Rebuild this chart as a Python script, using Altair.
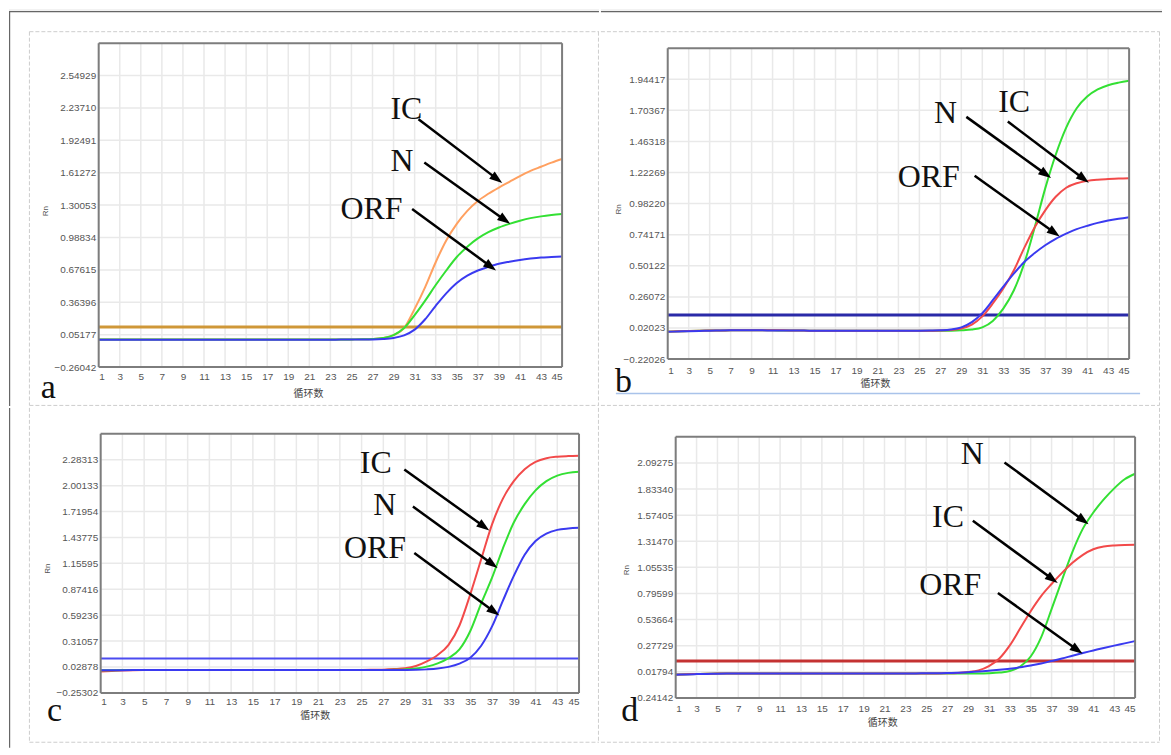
import math
import altair as alt
import pandas as pd

# ---------------- data ----------------
CYCLES = list(range(1, 46))
X_TICKS = list(range(1, 46, 2))

A_YTICKS = [-0.26042, 0.05177, 0.36396, 0.67615, 0.98834, 1.30053, 1.61272, 1.92491, 2.23710, 2.54929]
B_YTICKS = [-0.22026, 0.02023, 0.26072, 0.50122, 0.74171, 0.98220, 1.22269, 1.46318, 1.70367, 1.94417]
C_YTICKS = [-0.25302, 0.02878, 0.31057, 0.59236, 0.87416, 1.15595, 1.43775, 1.71954, 2.00133, 2.28313]
D_YTICKS = [-0.24142, 0.01794, 0.27729, 0.53664, 0.79599, 1.05535, 1.31470, 1.57405, 1.83340, 2.09275]

A_IC = [0.004, 0.004, 0.004, 0.004, 0.004, 0.004, 0.004, 0.004, 0.004, 0.004,
        0.004, 0.004, 0.004, 0.004, 0.004, 0.004, 0.004, 0.004, 0.004, 0.004,
        0.004, 0.004, 0.005, 0.005, 0.006, 0.007, 0.010, 0.020, 0.048, 0.115,
        0.300, 0.510, 0.750, 0.960, 1.120, 1.245, 1.340, 1.410, 1.470, 1.525,
        1.580, 1.630, 1.670, 1.710, 1.745]
A_N = [0.004, 0.004, 0.004, 0.004, 0.004, 0.004, 0.004, 0.004, 0.004, 0.004,
       0.004, 0.004, 0.004, 0.004, 0.004, 0.004, 0.004, 0.004, 0.004, 0.004,
       0.004, 0.004, 0.005, 0.005, 0.006, 0.007, 0.010, 0.020, 0.048, 0.115,
       0.240, 0.380, 0.530, 0.670, 0.800, 0.900, 0.980, 1.040, 1.085, 1.120,
       1.150, 1.175, 1.192, 1.205, 1.215]
A_ORF = [0.003, 0.003, 0.003, 0.003, 0.003, 0.003, 0.003, 0.003, 0.003, 0.003,
         0.003, 0.003, 0.003, 0.003, 0.003, 0.003, 0.003, 0.003, 0.003, 0.003,
         0.003, 0.003, 0.003, 0.004, 0.004, 0.005, 0.006, 0.010, 0.020, 0.045,
         0.100, 0.200, 0.330, 0.450, 0.550, 0.620, 0.670, 0.705, 0.735, 0.755,
         0.772, 0.785, 0.795, 0.800, 0.805]

B_N = [-0.008, -0.006, -0.004, -0.002, 0.000, 0.001, 0.002, 0.003, 0.003, 0.003,
       0.002, 0.001, 0.000, 0.000, -0.001, -0.001, -0.001, -0.002, -0.002, -0.002,
       -0.002, -0.002, -0.002, -0.002, -0.002, -0.002, -0.002, -0.001, 0.002, 0.008,
       0.025, 0.075, 0.170, 0.310, 0.520, 0.800, 1.100, 1.360, 1.570, 1.720,
       1.810, 1.865, 1.898, 1.918, 1.932]
B_IC = [-0.008, -0.006, -0.004, -0.002, 0.000, 0.001, 0.002, 0.003, 0.003, 0.003,
        0.002, 0.002, 0.001, 0.000, -0.001, -0.001, -0.001, -0.002, -0.002, -0.002,
        -0.002, -0.002, -0.002, -0.002, -0.002, -0.001, 0.000, 0.004, 0.016, 0.046,
        0.110, 0.210, 0.325, 0.465, 0.640, 0.800, 0.930, 1.035, 1.105, 1.140,
        1.158, 1.167, 1.172, 1.176, 1.178]
B_ORF = [-0.009, -0.007, -0.005, -0.003, -0.001, 0.001, 0.002, 0.002, 0.002, 0.002,
         0.001, 0.001, 0.000, 0.000, -0.001, -0.001, -0.001, -0.002, -0.002, -0.002,
         -0.002, -0.002, -0.002, -0.002, -0.001, 0.000, 0.002, 0.008, 0.025, 0.065,
         0.135, 0.235, 0.340, 0.440, 0.530, 0.600, 0.660, 0.710, 0.750, 0.785,
         0.810, 0.833, 0.851, 0.865, 0.877]

C_IC = [-0.020, -0.015, -0.010, -0.007, -0.005, -0.004, -0.004, -0.004, -0.004, -0.004,
        -0.004, -0.004, -0.004, -0.004, -0.004, -0.004, -0.004, -0.004, -0.004, -0.004,
        -0.004, -0.004, -0.004, -0.004, -0.003, -0.002, 0.000, 0.006, 0.015, 0.040,
        0.090, 0.160, 0.270, 0.480, 0.820, 1.200, 1.580, 1.860, 2.050, 2.180,
        2.260, 2.300, 2.316, 2.323, 2.327]
C_N = [-0.006, -0.006, -0.005, -0.005, -0.005, -0.005, -0.005, -0.005, -0.005, -0.005,
       -0.005, -0.005, -0.005, -0.005, -0.005, -0.005, -0.005, -0.005, -0.005, -0.005,
       -0.005, -0.005, -0.005, -0.005, -0.005, -0.005, -0.004, -0.002, 0.003, 0.013,
       0.033, 0.068, 0.125, 0.220, 0.420, 0.720, 1.000, 1.320, 1.600, 1.800,
       1.950, 2.050, 2.110, 2.140, 2.153]
C_ORF = [-0.006, -0.006, -0.006, -0.005, -0.005, -0.005, -0.005, -0.005, -0.005, -0.005,
         -0.005, -0.005, -0.005, -0.005, -0.005, -0.005, -0.005, -0.005, -0.005, -0.005,
         -0.005, -0.005, -0.005, -0.005, -0.005, -0.005, -0.005, -0.005, -0.004, -0.002,
         0.003, 0.012, 0.030, 0.065, 0.130, 0.260, 0.470, 0.750, 1.020, 1.250,
         1.400, 1.480, 1.520, 1.535, 1.542]

D_N = [-0.010, -0.007, -0.004, -0.002, 0.000, 0.001, 0.002, 0.002, 0.002, 0.002,
       0.002, 0.002, 0.002, 0.002, 0.002, 0.002, 0.002, 0.002, 0.002, 0.002,
       0.002, 0.002, 0.002, 0.002, 0.002, 0.002, 0.002, 0.002, 0.002, 0.002,
       0.004, 0.010, 0.025, 0.070, 0.170, 0.360, 0.640, 0.930, 1.210, 1.440,
       1.600, 1.730, 1.840, 1.930, 1.985]
D_IC = [-0.010, -0.007, -0.004, -0.002, 0.000, 0.001, 0.002, 0.002, 0.002, 0.002,
        0.002, 0.002, 0.002, 0.002, 0.002, 0.002, 0.002, 0.002, 0.002, 0.002,
        0.002, 0.002, 0.002, 0.002, 0.002, 0.002, 0.003, 0.006, 0.015, 0.032,
        0.075, 0.150, 0.280, 0.450, 0.620, 0.770, 0.890, 1.000, 1.100, 1.180,
        1.235, 1.262, 1.273, 1.278, 1.280]
D_ORF = [-0.011, -0.008, -0.005, -0.003, -0.001, 0.000, 0.001, 0.002, 0.002, 0.002,
         0.002, 0.002, 0.002, 0.002, 0.002, 0.002, 0.002, 0.002, 0.002, 0.002,
         0.002, 0.002, 0.002, 0.002, 0.003, 0.003, 0.005, 0.009, 0.014, 0.020,
         0.028, 0.037, 0.048, 0.062, 0.080, 0.100, 0.125, 0.150, 0.178, 0.205,
         0.230, 0.255, 0.278, 0.300, 0.323]

THRESHOLDS = {"a": 0.126, "b": 0.121, "c": 0.120, "d": 0.125}

# annotation labels: text, cycle, Rn (baseline)
A_LABELS = [("IC", 30.21, 2.129), ("N", 29.81, 1.632), ("ORF", 26.91, 1.168)]
B_LABELS = [("N", 27.49, 1.609), ("IC", 34.04, 1.694), ("ORF", 25.89, 1.108)]
C_LABELS = [("IC", 26.30, 2.135), ("N", 27.14, 1.684), ("ORF", 26.24, 1.213)]
D_LABELS = [("N", 29.40, 2.082), ("IC", 27.08, 1.454), ("ORF", 27.29, 0.785)]

# arrows: start cycle, start Rn, tip cycle, tip Rn
A_ARROWS = [(31.37, 2.129, 39.32, 1.514), (31.92, 1.712, 40.07, 1.120), (30.76, 1.264, 38.73, 0.671)]
B_ARROWS = [(29.48, 1.653, 37.56, 1.180), (33.43, 1.617, 41.16, 1.144), (30.27, 1.198, 38.38, 0.728)]
C_ARROWS = [(28.93, 2.178, 36.75, 1.514), (29.72, 1.774, 37.51, 1.105), (29.85, 1.268, 37.67, 0.589)]
D_ARROWS = [(32.49, 2.098, 40.54, 1.484), (29.46, 1.518, 37.59, 0.900), (31.86, 0.801, 39.97, 0.197)]

ORANGE, GREEN, BLUE, RED = "#ffa060", "#33e033", "#3a3af0", "#f24a4a"

# ---------------- layout (page pixel coordinates) ----------------
PANELS = [
    dict(name="a", left=98, top=42, w=465, h=325, ymin=-0.26042, ymax=2.86148, yticks=A_YTICKS,
         box=(8, 600, 8, 406), xpad=5, xtitle=(308, 388.5), ytitle=(45, 210), letter=(47.5, 398.3),
         thr_color="#cf9738", thr_w=3,
         series=[(A_IC, ORANGE), (A_N, GREEN), (A_ORF, BLUE)], labels=A_LABELS, arrows=A_ARROWS,
         dashed=[(28.5, 600, 30.5, 30.5), (28.5, 600, 405.5, 405.5), (28.5, 28.5, 30.5, 405.5),
                 (599.5, 599.5, 30.5, 405.5)],
         dark=[(8, 600, 10.3, 10.3), (8.6, 8.6, 10, 406)], band=(8, 600, 8, 9.6), strip=None,
         flip_neg=False),
    dict(name="b", left=667, top=47, w=463, h=312, ymin=-0.22026, ymax=2.18466, yticks=B_YTICKS,
         box=(600, 1163, 8, 406), xpad=6, xtitle=(875, 379), ytitle=(617.5, 208.3), letter=(622.5, 391.7),
         thr_color="#2a2aa8", thr_w=3,
         series=[(B_N, GREEN), (B_IC, RED), (B_ORF, BLUE)], labels=B_LABELS, arrows=B_ARROWS,
         dashed=[(600, 1160.5, 30.5, 30.5), (600, 1160.5, 405.5, 405.5), (1160.5, 1160.5, 30.5, 405.5)],
         dark=[(600, 1163, 10.3, 10.3)], band=(600, 1163, 8, 9.6), strip=(615, 1141, 393.5),
         flip_neg=False),
    dict(name="c", left=100, top=432, w=480, h=260, ymin=-0.25302, ymax=2.56493, yticks=C_YTICKS,
         box=(8, 600, 406, 747), xpad=4, xtitle=(314.8, 709.5), ytitle=(46.7, 566.7), letter=(53.6, 720),
         thr_color="#4b4bf0", thr_w=2,
         series=[(C_IC, RED), (C_N, GREEN), (C_ORF, BLUE)], labels=C_LABELS, arrows=C_ARROWS,
         dashed=[(28.5, 28.5, 406, 741.5), (28.5, 600, 741.5, 741.5), (599.5, 599.5, 406, 741.5)],
         dark=[(8.6, 8.6, 406, 747)], band=None, strip=None, flip_neg=False),
    dict(name="d", left=675, top=435, w=461, h=262, ymin=-0.24142, ymax=2.35210, yticks=D_YTICKS,
         box=(600, 1163, 406, 747), xpad=6, xtitle=(882.3, 716.5), ytitle=(625.7, 568.3), letter=(628.9, 720),
         thr_color="#c43232", thr_w=3,
         series=[(D_N, GREEN), (D_IC, RED), (D_ORF, BLUE)], labels=D_LABELS, arrows=D_ARROWS,
         dashed=[(600, 1160.5, 741.5, 741.5), (1160.5, 1160.5, 406, 741.5)],
         dark=[], band=None, strip=None, flip_neg=True),
]

TICK_FONT = "Liberation Sans"
SERIF = "Liberation Serif"
GRID = "#e9e9e9"


def panel_chart(P):
    bx1, bx2, by1, by2 = P["box"]
    BW, BH = bx2 - bx1, by2 - by1
    # plot area inside the panel box (relative pixels)
    pl, pt = P["left"] - bx1, P["top"] - by1
    pr, pb = pl + P["w"], pt + P["h"]
    xs = alt.Scale(domain=[1, 45], range=[pl, pr], nice=False, zero=False)
    ys = alt.Scale(domain=[P["ymin"], P["ymax"]], range=[pb, pt], nice=False, zero=False)
    xaxis = alt.Axis(values=X_TICKS, grid=False, ticks=False, domain=False, offset=-(BH - pb),
                     labelFont=TICK_FONT, labelFontSize=10, labelColor="#555555",
                     labelPadding=P["xpad"], labelOverlap=False, title="循环数",
                     titleFont="Noto Sans CJK SC", titleFontSize=10, titleFontWeight="normal",
                     titleColor="#444444", titleX=P["xtitle"][0] - bx1,
                     titleY=P["xtitle"][1] - P["top"] - P["h"],
                     titleAlign="center", titleBaseline="top")
    ykw = dict(values=P["yticks"], format=".5f", grid=False, ticks=False, domain=False,
               offset=-pl, labelFont=TICK_FONT, labelFontSize=10,
               labelColor="#555555", labelPadding=3, labelOverlap=False, title="Rn",
               titleFont=TICK_FONT, titleFontSize=8, titleFontWeight="normal", titleColor="#555555",
               titleAngle=270, titleX=P["ytitle"][0] - P["left"], titleY=P["ytitle"][1] - by1,
               titleAlign="center", titleBaseline="middle")
    if P["flip_neg"]:
        ykw["labelExpr"] = "format(abs(datum.value), '.5f')"
    yaxis = alt.Axis(**ykw)

    def X(f):
        return alt.X(f, type="quantitative", scale=xs, axis=xaxis)

    def Y(f):
        return alt.Y(f, type="quantitative", scale=ys, axis=yaxis)

    def pix_df(segs):
        return pd.DataFrame([dict(x1=a - bx1, x2=b - bx1, y1=c - by1, y2=d - by1) for a, b, c, d in segs])

    def pix_enc(ch):
        return ch.encode(x=alt.X("x1:Q", scale=None, axis=None), x2="x2:Q",
                         y=alt.Y("y1:Q", scale=None, axis=None), y2="y2:Q")

    layers = []
    # invisible rectangle covering the whole panel box
    layers.append(pix_enc(alt.Chart(pix_df([(bx1, bx2, by1, by2)])).mark_rect(
        fill="#ffffff", fillOpacity=0, strokeOpacity=0)))
    if P["band"]:
        layers.append(pix_enc(alt.Chart(pix_df([P["band"]])).mark_rect(fill="#eeeeee")))
    if P["dark"]:
        layers.append(pix_enc(alt.Chart(pix_df(P["dark"])).mark_rule(color="#666666", strokeWidth=1.2)))
    layers.append(pix_enc(alt.Chart(pix_df(P["dashed"])).mark_rule(
        color="#cdcdcd", strokeWidth=1, strokeDash=[4, 2])))
    if P["strip"]:
        a, b, c = P["strip"]
        layers.append(pix_enc(alt.Chart(pix_df([(a, b, c, c)])).mark_rule(color="#a9c3ea", strokeWidth=1.5)))

    # grid lines (at the axis tick values)
    gx = pd.DataFrame({"g": X_TICKS, "lo": P["ymin"], "hi": P["ymax"]})
    layers.append(alt.Chart(gx).mark_rule(color=GRID, strokeWidth=1.5).encode(x=X("g"), y=Y("lo"), y2="hi"))
    gy = pd.DataFrame({"g": P["yticks"], "lo": 1, "hi": 45})
    layers.append(alt.Chart(gy).mark_rule(color=GRID, strokeWidth=1.5).encode(y=Y("g"), x=X("lo"), x2="hi"))

    # threshold line
    tdf = pd.DataFrame({"thr": [THRESHOLDS[P["name"]]], "lo": [1], "hi": [45]})
    layers.append(alt.Chart(tdf).mark_rule(color=P["thr_color"], strokeWidth=P["thr_w"]).encode(
        y=Y("thr"), x=X("lo"), x2="hi"))

    # amplification curves
    for vals, col in P["series"]:
        df = pd.DataFrame({"cycle": CYCLES, "rn": vals})
        layers.append(alt.Chart(df).mark_line(color=col, strokeWidth=2, interpolate="monotone").encode(
            x=X("cycle"), y=Y("rn")))

    # arrows
    ppc = P["w"] / 44.0
    ppv = P["h"] / (P["ymax"] - P["ymin"])
    rows = []
    for c1, v1, c2, v2 in P["arrows"]:
        dx = (c2 - c1) * ppc
        dy = -(v2 - v1) * ppv
        ln = math.hypot(dx, dy)
        ang = math.degrees(math.atan2(dy, dx)) % 360
        back = 8.0
        rows.append(dict(c1=c1, v1=v1, ce=c2 - dx / ln * back / ppc, ve=v2 + dy / ln * back / ppv,
                         ct=c2, vt=v2, ang=ang))
    adf = pd.DataFrame(rows)
    layers.append(alt.Chart(adf).mark_rule(color="black", strokeWidth=2.5).encode(
        x=X("c1"), x2="ce", y=Y("v1"), y2="ve"))
    layers.append(alt.Chart(adf).mark_point(
        shape="M 0 0 L -2 -0.7 L -2 0.7 Z", size=169, filled=True, color="black", opacity=1,
        strokeWidth=0).encode(x=X("ct"), y=Y("vt"), angle=alt.Angle("ang:Q", scale=None)))

    # labels
    ldf = pd.DataFrame([dict(t=t, c=c, v=v) for t, c, v in P["labels"]])
    layers.append(alt.Chart(ldf).mark_text(font=SERIF, fontSize=32, align="center",
                                           baseline="alphabetic", color="#111111").encode(
        x=X("c"), y=Y("v"), text="t:N"))

    # plot border
    L, T, R, B = P["left"], P["top"], P["left"] + P["w"], P["top"] + P["h"]
    layers.append(pix_enc(alt.Chart(pix_df([(L, R, T, T), (L, R, B, B), (L, L, T, B), (R, R, T, B)])).mark_rule(
        color="#7d7d7d", strokeWidth=2)))

    # panel letter
    lx, ly = P["letter"]
    layers.append(alt.Chart(pd.DataFrame({"t": [P["name"]]})).mark_text(
        font=SERIF, fontSize=34, align="center", baseline="alphabetic", color="#111111").encode(
        x=alt.value(lx - bx1), y=alt.value(ly - by1), text="t:N"))

    return alt.layer(*layers).properties(width=BW, height=BH)


charts = [panel_chart(P) for P in PANELS]
chart = alt.vconcat(
    alt.hconcat(charts[0], charts[1], spacing=0),
    alt.hconcat(charts[2], charts[3], spacing=0),
    spacing=0,
).properties(padding=0).configure_view(stroke=None)

chart.save("out.html", embed_options={"renderer": "svg", "actions": False})
